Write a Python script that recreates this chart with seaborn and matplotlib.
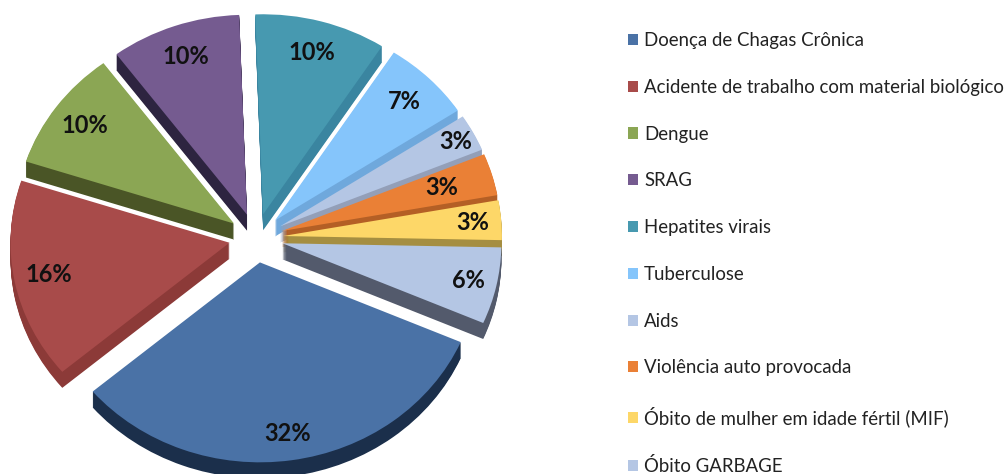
import matplotlib
matplotlib.use("Agg")
import matplotlib.pyplot as plt
import seaborn as sns

categories = [
    "Doença de Chagas Crônica",
    "Acidente de trabalho com material biológico",
    "Dengue",
    "SRAG",
    "Hepatites virais",
    "Tuberculose",
    "Aids",
    "Violência auto provocada",
    "Óbito de mulher em idade fértil (MIF)",
    "Óbito GARBAGE",
]
# labels round these to whole percents
values = [32.3, 16.2, 9.8, 9.6, 9.7, 6.6, 3.0, 3.4, 3.2, 6.2]

top_colors = ["#4a72a6", "#a84b4a", "#8ba654", "#755b90", "#4799b0",
              "#85c5fb", "#b4c6e4", "#ea8036", "#fdd768", "#b4c6e4"]
side_colors = ["#1b2f4b", "#8c3a38", "#4a5526", "#2d2440", "#3a85a0",
               "#6fa8dc", "#939fb8", "#b45f25", "#a58e41", "#535a6c"]

sns.set_theme(style="white")
plt.rcParams["font.family"] = ["Lato", "DejaVu Sans"]

# the pie is squashed a bit vertically, so y data units are not pixels
squash = 0.913
cx, cy = 256, (474 - 238) / squash
radius = 219
depth = 16
start = -23.5
explode = [27] * len(values)  # data units, pie does not scale this by radius

fig, ax = plt.subplots(figsize=(10.08, 4.74), dpi=100)
fig.subplots_adjust(0, 0, 1, 1)

# side walls first: same pie, pushed down pixel by pixel
for d in range(depth, 0, -1):
    ax.pie(values, colors=sns.color_palette(side_colors), explode=explode,
           startangle=start, counterclock=False, radius=radius,
           center=(cx, cy - d / squash), frame=True,
           wedgeprops={"linewidth": 0})

wedges, _, pct_texts = ax.pie(
    values, colors=sns.color_palette(top_colors), explode=explode,
    startangle=start, counterclock=False, radius=radius, center=(cx, cy),
    frame=True, wedgeprops={"linewidth": 0}, autopct="%.0f%%",
    pctdistance=0.84,
    textprops={"fontsize": 17, "fontweight": "bold", "color": "#111111"},
)

# some labels sit off the common ring
pct_nudge = {0: 1.025, 6: 1.07, 7: 0.92, 8: 1.03, 9: 1.03}
for i, scale in pct_nudge.items():
    x, y = pct_texts[i].get_position()
    pct_texts[i].set_position((cx + (x - cx) * scale, cy + (y - cy) * scale))

ax.set_xlim(0, 1008)
ax.set_ylim(0, 474 / squash)
ax.set_aspect("auto")
ax.axis("off")

ax.legend(wedges, categories, loc="upper left",
          bbox_to_anchor=(628, (474 - 32) / squash), bbox_transform=ax.transData,
          frameon=False, fontsize=13.4, labelcolor="#222222",
          borderpad=0, borderaxespad=0, handlelength=0.54, handleheight=0.54,
          handletextpad=0.32, labelspacing=1.6)

fig.savefig("out.png", dpi=100)
